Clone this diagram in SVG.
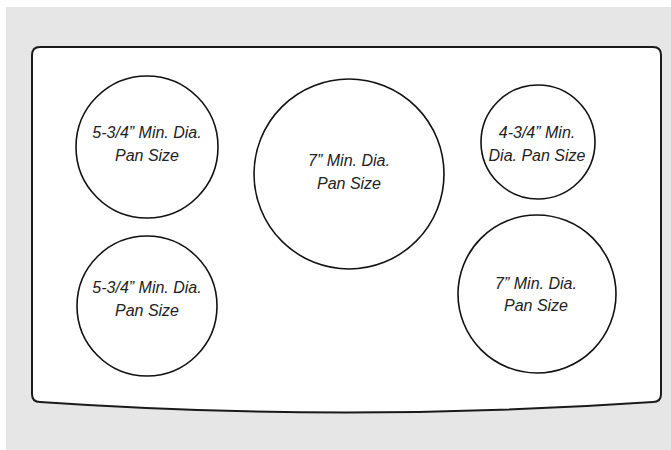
<svg xmlns="http://www.w3.org/2000/svg" width="671" height="450" viewBox="0 0 671 450">
<style>
.burner{fill:#fff;stroke:#111;stroke-width:1.6}
.lbl{font-family:"Liberation Sans",Arial,sans-serif;font-style:italic;font-size:16px;fill:#222;text-anchor:middle}
</style>
<rect x="6" y="7" width="665" height="443" fill="#e6e6e6"/>
<g id="cooktop">
<path d="M40,47 H653 Q661,47 661,55 V394 Q661,402 653,402 Q346,423 40,402 Q32,402 32,394 V55 Q32,47 40,47 Z" fill="#fff" stroke="#1a1a1a" stroke-width="2"/>
</g>
<g id="burner-left-top">
<circle class="burner" cx="147" cy="147" r="71"/>
<text class="lbl" x="147" y="138">5-3/4” Min. Dia.</text>
<text class="lbl" x="147" y="161">Pan Size</text>
</g>
<g id="burner-left-bottom">
<circle class="burner" cx="147" cy="306" r="70"/>
<text class="lbl" x="147" y="293">5-3/4” Min. Dia.</text>
<text class="lbl" x="147" y="316">Pan Size</text>
</g>
<g id="burner-center">
<circle class="burner" cx="349" cy="174" r="95"/>
<text class="lbl" x="349" y="166">7” Min. Dia.</text>
<text class="lbl" x="349" y="189">Pan Size</text>
</g>
<g id="burner-right-top">
<circle class="burner" cx="538" cy="142" r="57"/>
<text class="lbl" x="537" y="138">4-3/4” Min.</text>
<text class="lbl" x="537" y="161">Dia. Pan Size</text>
</g>
<g id="burner-right-bottom">
<circle class="burner" cx="537" cy="294" r="79"/>
<text class="lbl" x="536" y="289">7” Min. Dia.</text>
<text class="lbl" x="536" y="311">Pan Size</text>
</g>
<g id="connectors"/>
</svg>
